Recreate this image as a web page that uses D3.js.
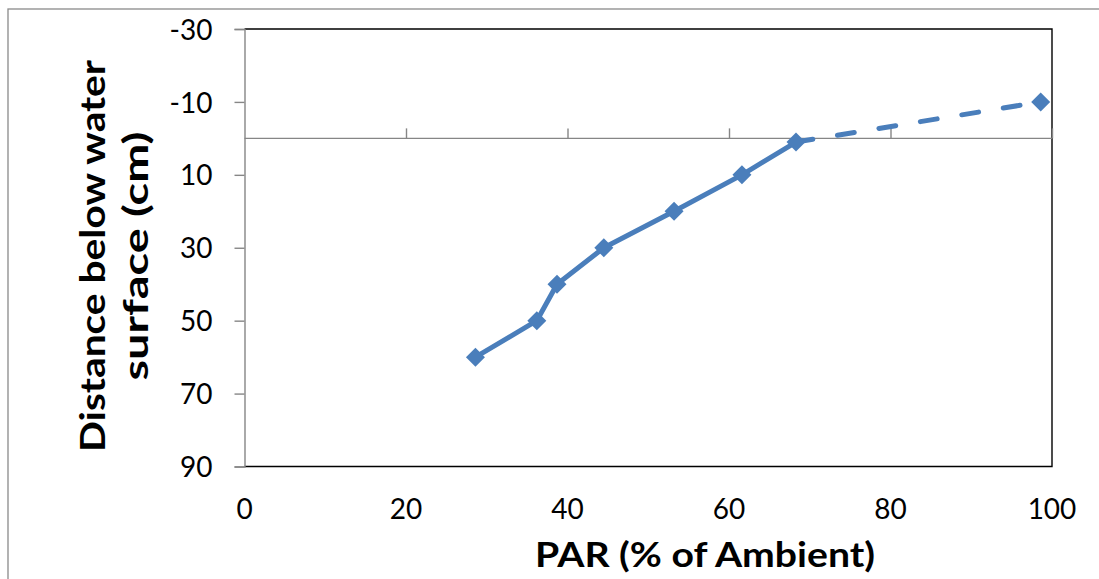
<!DOCTYPE html>
<html><head><meta charset="utf-8">
<script src="https://cdn.jsdelivr.net/npm/d3@7"></script>
<style>html,body{margin:0;padding:0;background:#fff;}svg{display:block;}</style>
</head><body>
<svg id="c" width="1099" height="579"></svg>
<script>
const parValues = [28.6, 36.2, 38.7, 44.5, 53.2, 61.6, 68.3, 98.6];
const depthValues = [60, 50, 40, 30, 20, 10, 1, -10];
const xTicks = [0, 20, 40, 60, 80, 100];
const yTicks = [-30, -10, 10, 30, 50, 70, 90];
const xTitle = "PAR (% of Ambient)";
const yTitleLines = ["Distance below water", "surface (cm)"];

const svg = d3.select("#c");
const L = 244.5, R = 1052, T = 29, B = 466.5;
const x = d3.scaleLinear().domain([0, 100]).range([L, R]);
const y = d3.scaleLinear().domain([-30, 90]).range([T, B]);
const font = "Lato, 'Open Sans', sans-serif";
const blue = "#4a7ebb";

// outer chart border
svg.append("rect").attr("x", 8).attr("y", 9).attr("width", 1200).attr("height", 700)
  .attr("fill", "none").attr("stroke", "#8a8a8a").attr("stroke-width", 1.3);

// plot border (top, right, bottom)
svg.append("path").attr("d", `M${L},${T}H${R}V${B}H${L}`)
  .attr("fill", "none").attr("stroke", "#000").attr("stroke-width", 1.4);

// y axis
const yAxis = d3.axisLeft(y).tickValues(yTicks).tickSize(10).tickPadding(22).tickFormat(d => String(d));
const gy = svg.append("g").attr("transform", `translate(${L},0)`).call(yAxis);
gy.select(".domain").attr("stroke", "#868686").attr("stroke-width", 1.4);
gy.selectAll(".tick line").attr("stroke", "#868686").attr("stroke-width", 1.4);
gy.selectAll(".tick text").attr("font-family", font).attr("font-size", 28).attr("fill", "#000").attr("dy", "0.36em");

// x axis crossing at y=0, ticks pointing up
const xAxis = d3.axisTop(x).tickValues(xTicks.filter(d => d > 0)).tickSize(10).tickFormat("");
const gx = svg.append("g").attr("transform", `translate(0,${y(0)})`).call(xAxis);
gx.select(".domain").attr("d", `M${L},0H${R}`).attr("stroke", "#868686").attr("stroke-width", 1.4);
gx.selectAll(".tick line").attr("stroke", "#868686").attr("stroke-width", 1.4);

// x tick labels at bottom
svg.append("g").selectAll("text").data(xTicks).join("text")
  .attr("x", d => x(d)).attr("y", 519)
  .attr("text-anchor", "middle").attr("font-family", font).attr("font-size", 28).attr("fill", "#000")
  .text(d => String(d));

// titles
svg.append("text").attr("x", 705).attr("y", 567).attr("text-anchor", "middle")
  .attr("font-family", font).attr("font-weight", "bold").attr("font-size", 34)
  .attr("textLength", 340).attr("lengthAdjust", "spacingAndGlyphs").text(xTitle);

const yt = svg.append("g").attr("transform", "translate(0,256) rotate(-90)");
yt.selectAll("text").data(yTitleLines).join("text")
  .attr("x", 0).attr("y", (d, i) => i === 0 ? 105 : 148)
  .attr("text-anchor", "middle").attr("font-family", font).attr("font-weight", "bold").attr("font-size", 34)
  .attr("textLength", (d, i) => i === 0 ? 392 : 249).attr("lengthAdjust", "spacingAndGlyphs")
  .text(d => d);

// data line
const pts = parValues.map((v, i) => [v, depthValues[i]]);
const line = d3.line().x(d => x(d[0])).y(d => y(d[1]));
const n = pts.length;
svg.append("path").attr("d", line(pts.slice(0, n - 1))).attr("fill", "none")
  .attr("stroke", blue).attr("stroke-width", 5).attr("stroke-linejoin", "round").attr("stroke-linecap", "round");
svg.append("path").attr("d", line(pts.slice(n - 2))).attr("fill", "none")
  .attr("stroke", blue).attr("stroke-width", 5).attr("stroke-dasharray", "17,25").attr("stroke-linecap", "round");

// markers
const h = 9.5;
svg.append("g").selectAll("path").data(pts).join("path")
  .attr("transform", d => `translate(${x(d[0])},${y(d[1])})`)
  .attr("d", `M0,${-h}L${h},0L0,${h}L${-h},0Z`).attr("fill", blue);
</script>
</body></html>
